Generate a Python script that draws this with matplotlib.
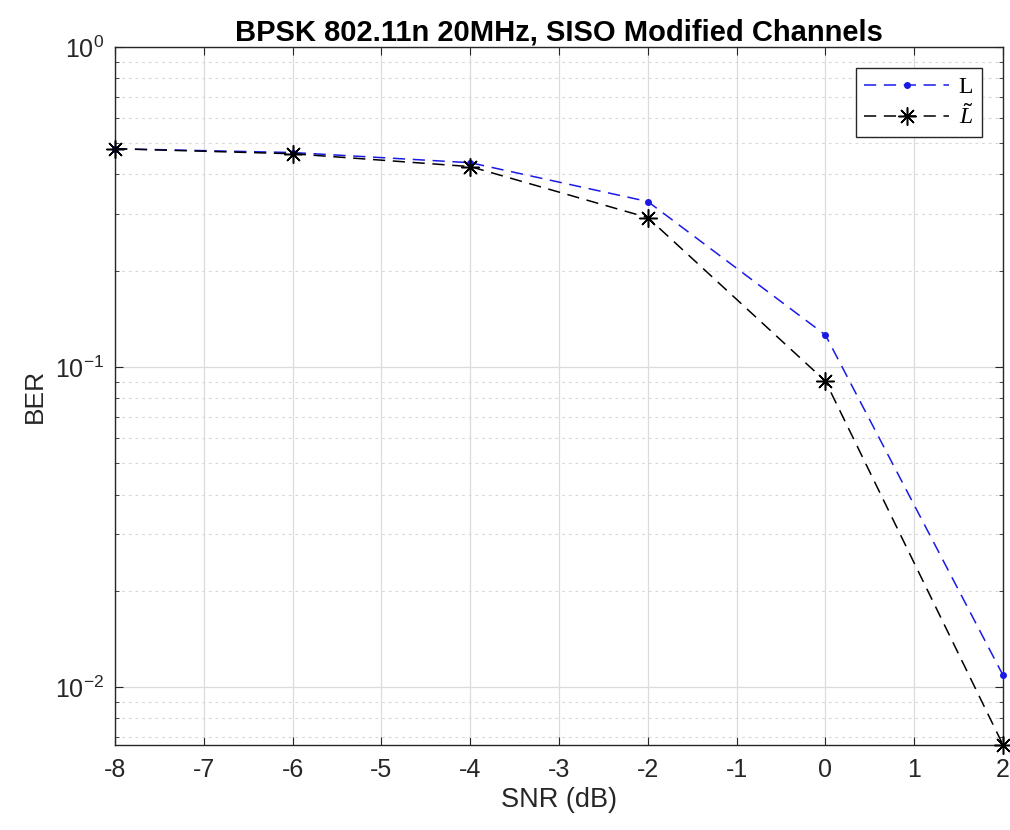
import numpy as np
import matplotlib
matplotlib.use("Agg")
import matplotlib.pyplot as plt
from matplotlib.ticker import LogLocator, NullFormatter, MultipleLocator, FuncFormatter

plt.rcParams['font.family'] = ['Liberation Sans', 'DejaVu Sans']
plt.rcParams['mathtext.fontset'] = 'custom'
plt.rcParams['mathtext.rm'] = 'Liberation Sans'
plt.rcParams['mathtext.it'] = 'Liberation Serif:italic'
plt.rcParams['axes.unicode_minus'] = False

# data
snr = [-8, -6, -4, -2, 0, 2]
ber_L = [0.481, 0.468, 0.435, 0.329, 0.126, 0.0109]
ber_Lt = [0.481, 0.464, 0.423, 0.293, 0.0904, 0.0066]

fig = plt.figure(figsize=(10.1, 8.3), dpi=100)
ax = fig.add_axes([0.1139, 0.1024, 0.8792, 0.841])

ax.semilogy(snr, ber_L, linestyle=(0, (8, 5)), color='#1a1ae6', marker='.',
            markersize=8, linewidth=1.1, label='L', clip_on=False, zorder=3)
ax.semilogy(snr, ber_Lt, linestyle=(0, (8, 5)), color='black', marker=(8, 2, 0),
            markersize=13, markeredgewidth=1.1, linewidth=1.1, label=r'$\tilde{L}$',
            clip_on=False, zorder=3)

ax.set_xlim(-8, 2)
ax.set_ylim(0.0066, 1)
ax.xaxis.set_major_locator(MultipleLocator(1))
ax.xaxis.set_major_formatter(FuncFormatter(lambda v, p: '%d' % round(v)))
ax.yaxis.set_major_locator(LogLocator(base=10, numticks=10))
ax.yaxis.set_major_formatter(FuncFormatter(
    lambda v, p: r'$\mathregular{10^{%d}}$' % round(np.log10(v))))
ax.yaxis.set_minor_locator(LogLocator(base=10, subs=np.arange(2, 10), numticks=20))
ax.yaxis.set_minor_formatter(NullFormatter())

ax.grid(True, which='major', color='#dcdcdc', linestyle='-', linewidth=0.9)
ax.grid(True, which='minor', axis='y', color='#d8d8d8', linestyle=(0, (2.5, 3.5)), linewidth=0.8)
ax.set_axisbelow(True)

ax.tick_params(which='both', direction='in', top=True, right=True, labelsize=18, colors='#262626')
ax.tick_params(which='major', length=6)
ax.tick_params(which='minor', length=3)
ax.tick_params(axis='x', pad=9)
ax.tick_params(axis='y', pad=8)
for s in ax.spines.values():
    s.set_color('#262626')
    s.set_linewidth(1.0)

ax.set_title('BPSK 802.11n 20MHz, SISO Modified Channels', fontsize=21, fontweight='bold', pad=5)
ax.set_xlabel('SNR (dB)', fontsize=19.5, color='#262626', labelpad=4)
ax.set_ylabel('BER', fontsize=19, color='#262626', labelpad=6)

leg = ax.legend(loc='upper right', fancybox=False, edgecolor='#262626',
                prop={'family': 'Liberation Serif', 'size': 17},
                framealpha=1, handlelength=3.6, borderaxespad=0.9,
                labelspacing=0.25, handletextpad=0.4, borderpad=0.35)
leg.get_frame().set_linewidth(1.0)

fig.savefig('out.png', dpi=100)
